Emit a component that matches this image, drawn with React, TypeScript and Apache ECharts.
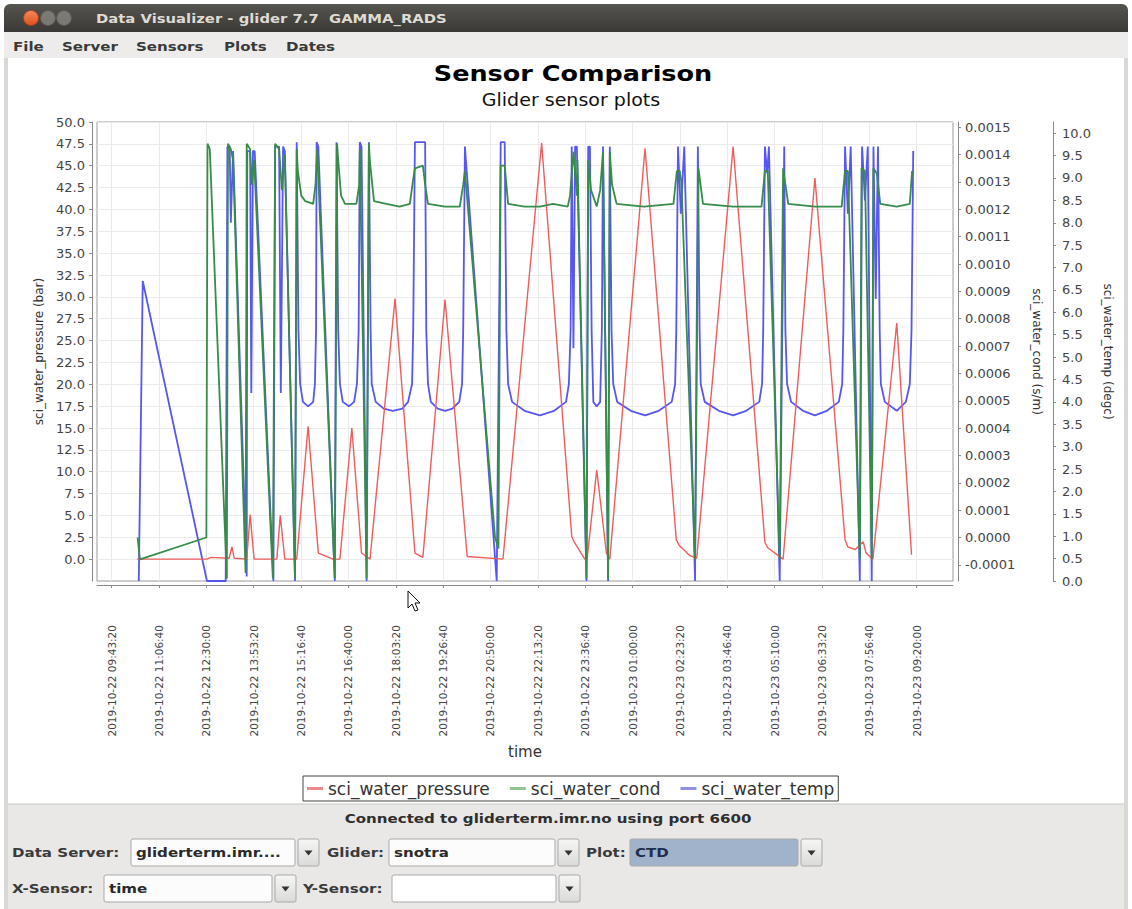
import React, { useEffect, useRef } from "react";
import * as echarts from "echarts";

const FONT = "DejaVu Sans";

const seriesNames = ["sci_water_pressure", "sci_water_cond", "sci_water_temp"];

const xTickLabels = [
  "2019-10-22 09:43:20", "2019-10-22 11:06:40", "2019-10-22 12:30:00", "2019-10-22 13:53:20",
  "2019-10-22 15:16:40", "2019-10-22 16:40:00", "2019-10-22 18:03:20", "2019-10-22 19:26:40",
  "2019-10-22 20:50:00", "2019-10-22 22:13:20", "2019-10-22 23:36:40", "2019-10-23 01:00:00",
  "2019-10-23 02:23:20", "2019-10-23 03:46:40", "2019-10-23 05:10:00", "2019-10-23 06:33:20",
  "2019-10-23 07:56:40", "2019-10-23 09:20:00",
];

const pressureTicks = [0, 2.5, 5, 7.5, 10, 12.5, 15, 17.5, 20, 22.5, 25, 27.5, 30, 32.5, 35, 37.5, 40, 42.5, 45, 47.5, 50];
const condTicks = [-0.0001, 0, 0.0001, 0.0002, 0.0003, 0.0004, 0.0005, 0.0006, 0.0007, 0.0008, 0.0009, 0.001, 0.0011, 0.0012, 0.0013, 0.0014, 0.0015];
const tempTicks = [0, 0.5, 1, 1.5, 2, 2.5, 3, 3.5, 4, 4.5, 5, 5.5, 6, 6.5, 7, 7.5, 8, 8.5, 9, 9.5, 10];

// time = minutes since 2019-10-22 00:00
const pressure = [
  [628, 0], [751, 0], [758, 0.2], [790, 0.1], [795, 1.4], [799, 0.1], [821, 0], [827, 5.1], [834, 0],
  [874, 0], [880, 5.0], [888, 0], [909, 0], [929, 15.2], [947, 0.7], [973, 0], [985, 0], [1006, 15.0],
  [1023, 0.7], [1038, 0], [1082, 29.8], [1117, 0.7], [1131, 0.2], [1170, 29.7], [1209, 0.3], [1272, 0],
  [1340, 47.6], [1393, 2.6], [1397, 2.0], [1416, 0], [1420, 0], [1437, 10.2], [1454, 0.7], [1460, 0],
  [1522, 47.0], [1577, 2.2], [1582, 1.6], [1601, 0.4], [1613, 0.1], [1677, 47.2], [1733, 1.9], [1738, 1.3],
  [1765, 0], [1821, 43.6], [1874, 2.2], [1879, 1.4], [1892, 1.1], [1906, 2.0], [1911, 0.7], [1923, 0],
  [1965, 27.0], [1991, 0.5],
];

const cond = [
  [629, 0.0], [633, -0.00008], [750, 0.0], [752, 0.00144], [756, 0.00142], [786, -0.00015], [788, 0.00144],
  [793, 0.00142], [797, 0.00138], [819, -0.00013], [821, 0.00144], [827, 0.00142], [830, 0.00129], [834, 0.00138],
  [867, -0.00015], [871, 0.00144], [878, 0.00142], [883, 0.00127], [888, 0.0014], [906, -0.00015], [909, 0.00142],
  [911, 0.00134], [917, 0.00125], [924, 0.00123], [938, 0.00122], [942, 0.00129], [945, 0.00142], [976, -0.00015],
  [980, 0.00144], [982, 0.00138], [987, 0.00125], [994, 0.00122], [1014, 0.00122], [1019, 0.00129], [1020, 0.00142],
  [1032, -0.00015], [1036, 0.00144], [1038, 0.00137], [1045, 0.00123], [1067, 0.00122], [1090, 0.00121], [1108, 0.00122],
  [1114, 0.00131], [1117, 0.00135], [1131, 0.00136], [1135, 0.00129], [1140, 0.00122], [1170, 0.00121], [1196, 0.00121],
  [1202, 0.00129], [1205, 0.00134], [1258, 0.0], [1264, -0.00004], [1268, 0.00136], [1275, 0.00136], [1281, 0.00122],
  [1310, 0.00121], [1337, 0.00121], [1360, 0.00122], [1386, 0.00121], [1390, 0.00125], [1396, 0.00141], [1402, 0.00125],
  [1403, 0.00138], [1419, -0.00015], [1422, 0.00138], [1427, 0.00127], [1437, 0.00121], [1443, 0.00127], [1448, 0.00141],
  [1457, -0.00015], [1460, 0.00141], [1464, 0.00129], [1472, 0.00122], [1520, 0.00121], [1572, 0.00122], [1578, 0.00134],
  [1583, 0.00134], [1586, 0.0013], [1610, -0.00008], [1616, 0.00135], [1624, 0.00122], [1677, 0.00121], [1727, 0.00121],
  [1733, 0.00134], [1738, 0.00134], [1759, -0.00008], [1765, 0.00135], [1774, 0.00122], [1821, 0.00121], [1868, 0.00121],
  [1874, 0.00134], [1879, 0.00134], [1900, -0.00008], [1903, 0.00135], [1909, 0.00134], [1921, -0.00008], [1924, 0.00135],
  [1930, 0.00133], [1936, 0.00122], [1965, 0.00121], [1988, 0.00122], [1992, 0.00134],
];

const temp = [
  [631, 0], [638, 6.7], [751, 0], [784, 0], [787, 9.7], [791, 9.7], [793, 8.0], [797, 9.6], [821, 0.1], [822, 9.6],
  [827, 9.6], [829, 4.2], [832, 9.6], [835, 9.6], [868, 0], [871, 9.7], [878, 9.7], [881, 4.2], [885, 9.7], [888, 9.6],
  [906, 0], [909, 9.8], [912, 5.6], [915, 4.4], [920, 4.0], [929, 3.9], [938, 4.0], [941, 4.4], [943, 5.6], [944, 9.8],
  [947, 9.7], [976, 0], [979, 9.8], [982, 5.6], [985, 4.4], [990, 4.0], [1001, 3.9], [1010, 4.0], [1015, 4.4], [1018, 5.6],
  [1020, 9.8], [1023, 9.7], [1032, 0], [1036, 9.8], [1039, 5.6], [1041, 4.4], [1048, 4.0], [1062, 3.85], [1078, 3.8],
  [1095, 3.85], [1105, 4.0], [1112, 4.4], [1114, 5.6], [1117, 9.8], [1135, 9.8], [1137, 5.6], [1140, 4.4], [1145, 4.0],
  [1157, 3.85], [1170, 3.8], [1183, 3.85], [1195, 4.0], [1200, 4.4], [1202, 5.6], [1205, 9.7], [1261, 0], [1268, 9.8],
  [1275, 9.8], [1278, 5.6], [1281, 4.4], [1288, 4.0], [1310, 3.8], [1337, 3.7], [1362, 3.8], [1383, 4.0], [1388, 4.4],
  [1391, 5.6], [1393, 9.7], [1396, 5.2], [1399, 9.7], [1402, 9.7], [1419, 0], [1422, 9.7], [1425, 9.7], [1428, 5.6],
  [1431, 4.0], [1437, 3.9], [1443, 4.0], [1446, 5.6], [1448, 9.7], [1457, 0], [1460, 9.7], [1463, 5.6], [1466, 4.4],
  [1473, 4.0], [1497, 3.8], [1522, 3.7], [1546, 3.8], [1569, 4.0], [1575, 4.4], [1577, 5.6], [1580, 9.7], [1585, 8.2],
  [1591, 9.7], [1610, 0], [1615, 9.7], [1618, 5.6], [1620, 4.4], [1627, 4.0], [1652, 3.8], [1677, 3.7], [1700, 3.8],
  [1723, 4.0], [1728, 4.4], [1730, 5.6], [1733, 9.7], [1737, 9.1], [1740, 9.7], [1759, 0], [1767, 9.7], [1769, 5.6],
  [1772, 4.4], [1779, 4.0], [1800, 3.8], [1821, 3.7], [1842, 3.8], [1863, 4.0], [1869, 4.4], [1871, 5.6], [1874, 9.7],
  [1879, 8.2], [1884, 9.7], [1900, 0], [1904, 9.7], [1909, 8.5], [1914, 9.7], [1921, 0], [1924, 9.7], [1928, 6.3],
  [1932, 9.7], [1935, 5.6], [1937, 4.4], [1944, 4.0], [1965, 3.8], [1981, 4.0], [1988, 4.4], [1991, 5.6], [1994, 9.6],
];

const labelToMinutes = (s: string) => {
  const day = Number(s.slice(8, 10));
  const [h, m, sec] = s.slice(11).split(":").map(Number);
  return (day - 22) * 1440 + h * 60 + m + sec / 60;
};
const xTickValues = xTickLabels.map(labelToMinutes);

const SX = 1.16;
const chromeText = (x: number, y: number, text: string, o: any = {}) => ({
  type: "text",
  x,
  y,
  scaleX: o.scaleX ?? SX,
  z: 100,
  style: {
    text,
    fill: o.fill ?? "#3a3a3a",
    fontFamily: FONT,
    fontSize: o.size ?? 13,
    fontWeight: o.weight ?? "bold",
    align: o.align ?? "left",
    verticalAlign: "middle",
  },
});

const combo = (x: number, y: number, w: number, text: string, fill: string, textFill = "#2a2a2a") => {
  const h = 27;
  const bw = 21;
  return [
    { type: "rect", z: 100, shape: { x, y, width: w - bw - 3, height: h, r: 2 }, style: { fill, stroke: "#a9a9a9", lineWidth: 1 } },
    {
      type: "rect",
      z: 100,
      shape: { x: x + w - bw, y, width: bw, height: h, r: 2 },
      style: {
        fill: new echarts.graphic.LinearGradient(0, 0, 0, 1, [
          { offset: 0, color: "#f6f6f5" },
          { offset: 1, color: "#dadad8" },
        ]),
        stroke: "#a9a9a9",
        lineWidth: 1,
      },
    },
    {
      type: "polygon",
      z: 101,
      shape: { points: [[x + w - bw / 2 - 4, y + h / 2 - 2], [x + w - bw / 2 + 4, y + h / 2 - 2], [x + w - bw / 2, y + h / 2 + 3]] },
      style: { fill: "#333" },
    },
    chromeText(x + 5, y + h / 2, text, { fill: textFill }),
  ];
};

export default function App() {
  const ref = useRef<HTMLDivElement>(null);

  useEffect(() => {
    if (!ref.current) return;
    const chart = echarts.init(ref.current, null, { renderer: "svg" });

    const axisLineStyle = { color: "#8a8a8a", width: 1 };
    const tickLabel = { fontFamily: FONT, fontSize: 13, color: "#444" };

    const graphic: any[] = [
      // title bar
      {
        type: "rect",
        z: 100,
        shape: { x: 4, y: 4, width: 1124, height: 28, r: [6, 6, 0, 0] },
        style: {
          fill: new echarts.graphic.LinearGradient(0, 0, 0, 1, [
            { offset: 0, color: "#55544f" },
            { offset: 1, color: "#3a3935" },
          ]),
        },
      },
      {
        type: "circle",
        z: 101,
        shape: { cx: 31, cy: 18, r: 7.5 },
        style: {
          fill: new echarts.graphic.LinearGradient(0, 0, 0, 1, [
            { offset: 0, color: "#f58a5c" },
            { offset: 1, color: "#df4f1a" },
          ]),
          stroke: "#a83c14",
          lineWidth: 0.8,
        },
      },
      { type: "circle", z: 101, shape: { cx: 48, cy: 18, r: 7.5 }, style: { fill: "#7a7974", stroke: "#55544f", lineWidth: 0.8 } },
      { type: "circle", z: 101, shape: { cx: 64, cy: 18, r: 7.5 }, style: { fill: "#7a7974", stroke: "#55544f", lineWidth: 0.8 } },
      chromeText(96, 18, "Data Visualizer - glider 7.7  GAMMA_RADS", { fill: "#dfdbd2", scaleX: 1.14 }),
      // menu bar
      { type: "rect", z: 100, shape: { x: 4, y: 32, width: 1124, height: 26 }, style: { fill: "#edecea" } },
      chromeText(13, 46, "File"),
      chromeText(62, 46, "Server"),
      chromeText(136, 46, "Sensors"),
      chromeText(224, 46, "Plots"),
      chromeText(286, 46, "Dates"),
      // side strips
      { type: "rect", z: 100, shape: { x: 4, y: 58, width: 4, height: 851 }, style: { fill: "#d9d8d5" } },
      { type: "rect", z: 100, shape: { x: 1124, y: 58, width: 4, height: 851 }, style: { fill: "#d9d8d5" } },
      // bottom panel
      { type: "rect", z: 100, shape: { x: 8, y: 804, width: 1116, height: 105 }, style: { fill: "#e9e8e6" } },
      { type: "line", z: 100, shape: { x1: 8, y1: 804, x2: 1124, y2: 804 }, style: { stroke: "#c9c8c5", lineWidth: 1 } },
      chromeText(548, 818, "Connected to gliderterm.imr.no using port 6600", { align: "center", fill: "#2e2e2e" }),
      chromeText(12, 852.5, "Data Server:"),
      ...combo(131, 839, 188, "gliderterm.imr....", "#fcfcfc"),
      chromeText(327, 852.5, "Glider:"),
      ...combo(389, 839, 190, "snotra", "#fcfcfc"),
      chromeText(586, 852.5, "Plot:"),
      ...combo(630, 839, 192, "CTD", "#a1b3cb", "#1e2f4d"),
      chromeText(12, 888.5, "X-Sensor:"),
      ...combo(104, 875, 192, "time", "#fcfcfc"),
      chromeText(303, 888.5, "Y-Sensor:"),
      ...combo(392, 875, 188, "", "#ffffff"),
      // chart titles
      {
        type: "text",
        x: 573,
        y: 74,
        scaleX: SX,
        z: 100,
        style: { text: "Sensor Comparison", fill: "#000", fontFamily: FONT, fontSize: 22, fontWeight: "bold", align: "center", verticalAlign: "middle" },
      },
      {
        type: "text",
        x: 571,
        y: 100,
        scaleX: 1.12,
        z: 100,
        style: { text: "Glider sensor plots", fill: "#111", fontFamily: FONT, fontSize: 17, align: "center", verticalAlign: "middle" },
      },
      // mouse pointer
      {
        type: "polygon",
        z: 120,
        shape: { points: [[408, 591], [408, 608], [412, 604], [415, 611], [418, 610], [415, 603], [420, 603]] },
        style: { fill: "#fff", stroke: "#111", lineWidth: 1 },
      },
    ];

    const option: any = {
      animation: false,
      backgroundColor: "#ffffff",
      graphic,
      legend: {
        data: seriesNames,
        left: 303,
        top: 776,
        orient: "horizontal",
        icon: "rect",
        itemWidth: 16,
        itemHeight: 3,
        itemGap: 20,
        padding: [4, 4, 4, 4],
        borderColor: "#444",
        borderWidth: 1,
        borderRadius: 0,
        selectedMode: false,
        textStyle: { fontFamily: FONT, fontSize: 17, color: "#333" },
      },
      grid: {
        left: 97,
        top: 122,
        width: 856,
        height: 459,
        show: true,
        borderColor: "#9a9a9a",
        borderWidth: 1,
        backgroundColor: "#ffffff",
      },
      xAxis: {
        type: "value",
        min: 557.5,
        max: 2064,
        offset: 4,
        axisLine: { show: true, onZero: false, lineStyle: axisLineStyle },
        axisTick: { show: true, length: 3, customValues: xTickValues, lineStyle: axisLineStyle },
        axisLabel: {
          customValues: xTickValues,
          rotate: 90,
          margin: 40,
          fontFamily: FONT,
          fontSize: 10.5,
          color: "#444",
          formatter: (v: number) => {
            const i = xTickValues.findIndex((t) => Math.abs(t - v) < 0.01);
            return i >= 0 ? xTickLabels[i] : "";
          },
        },
        splitLine: { show: true, lineStyle: { color: "#ebebeb", width: 1 } },
        name: "time",
        nameLocation: "middle",
        nameGap: 159,
        nameTextStyle: { fontFamily: FONT, fontSize: 15, color: "#333" },
      },
      yAxis: [
        {
          type: "value",
          position: "left",
          offset: 5,
          min: -2.5,
          max: 50,
          axisLine: { show: true, onZero: false, lineStyle: axisLineStyle },
          axisTick: { show: true, length: 3, customValues: pressureTicks, lineStyle: axisLineStyle },
          axisLabel: { ...tickLabel, customValues: pressureTicks, margin: 7, formatter: (v: number) => v.toFixed(1) },
          splitLine: { show: true, lineStyle: { color: "#ebebeb", width: 1 } },
          name: "sci_water_pressure (bar)",
          nameLocation: "middle",
          nameRotate: 90,
          nameGap: 44,
          nameTextStyle: { fontFamily: FONT, fontSize: 12, color: "#333" },
        },
        {
          type: "value",
          position: "right",
          offset: 5,
          min: -0.000159,
          max: 0.0015192,
          axisLine: { show: true, onZero: false, lineStyle: axisLineStyle },
          axisTick: { show: true, length: 3, customValues: condTicks, lineStyle: axisLineStyle },
          axisLabel: { ...tickLabel, customValues: condTicks, margin: 7, formatter: (v: number) => v.toFixed(4) },
          splitLine: { show: false },
          name: "sci_water_cond (s/m)",
          nameLocation: "middle",
          nameRotate: -90,
          nameGap: 73,
          nameTextStyle: { fontFamily: FONT, fontSize: 12, color: "#333" },
        },
        {
          type: "value",
          position: "right",
          offset: 100,
          min: 0,
          max: 10.25,
          axisLine: { show: true, onZero: false, lineStyle: axisLineStyle },
          axisTick: { show: true, length: 3, customValues: tempTicks, lineStyle: axisLineStyle },
          axisLabel: { ...tickLabel, customValues: tempTicks, margin: 9, formatter: (v: number) => v.toFixed(1) },
          splitLine: { show: false },
          name: "sci_water_temp (degc)",
          nameLocation: "middle",
          nameRotate: -90,
          nameGap: 46,
          nameTextStyle: { fontFamily: FONT, fontSize: 12, color: "#333" },
        },
      ],
      series: [
        {
          name: seriesNames[0],
          type: "line",
          yAxisIndex: 0,
          data: pressure,
          showSymbol: false,
          symbol: "none",
          z: 3,
          lineStyle: { width: 1.4, color: "#ef5c5c" },
          itemStyle: { color: "#f08a8a" },
        },
        {
          name: seriesNames[1],
          type: "line",
          yAxisIndex: 1,
          data: cond,
          showSymbol: false,
          symbol: "none",
          z: 4,
          lineStyle: { width: 1.8, color: "#368c48" },
          itemStyle: { color: "#8cc794" },
        },
        {
          name: seriesNames[2],
          type: "line",
          yAxisIndex: 2,
          data: temp,
          showSymbol: false,
          symbol: "none",
          z: 2,
          lineStyle: { width: 1.8, color: "#5656f2" },
          itemStyle: { color: "#9090e6" },
        },
      ],
    };

    chart.setOption(option);
    return () => chart.dispose();
  }, []);

  return <div ref={ref} style={{ position: "absolute", left: 0, top: 0, width: 1132, height: 909 }} />;
}
